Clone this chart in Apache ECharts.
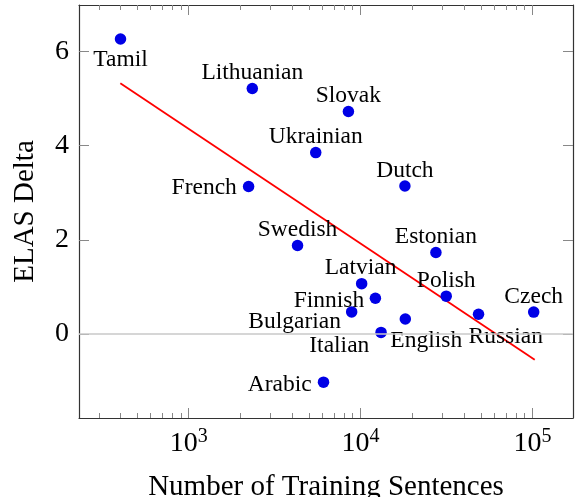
<!DOCTYPE html>
<html>
<head>
<meta charset="utf-8">
<script src="https://cdn.jsdelivr.net/npm/echarts@6/dist/echarts.min.js"></script>
<style>
html,body{margin:0;padding:0;background:#fff;}
#chart{width:575px;height:497px;}
</style>
</head>
<body>
<div id="chart"></div>
<script>
// ---- data ----
var languages = ['Tamil','Lithuanian','Slovak','Ukrainian','French','Dutch','Swedish','Latvian','Finnish','Bulgarian','Italian','English','Arabic','Estonian','Polish','Russian','Czech'];
var trainingSentences = [401, 2344, 8492, 5483, 2230, 18100, 4296, 10140, 12190, 8870, 13150, 18200, 6083, 27420, 31480, 48530, 101600];
var elasDelta = [6.26, 5.21, 4.72, 3.85, 3.13, 3.14, 1.88, 1.07, 0.76, 0.47, 0.035, 0.32, -1.02, 1.73, 0.805, 0.42, 0.466];
var fitX = [400, 103000];
var fitY = [5.32, -0.545];
var xMajorTicks = [1000, 10000, 100000];
var xMinorTicks = [300,400,500,600,700,800,900,2000,3000,4000,5000,6000,7000,8000,9000,20000,30000,40000,50000,60000,70000,80000,90000];
var yTicks = [0, 2, 4, 6];

// ---- layout / style ----
var FONT = 'Liberation Serif';
var xMin = 230, xMax = 172000, yMin = -1.78, yMax = 6.98;
var labelPlacement = {
  Tamil:      {position:'inside', offset:[0, 20.5]},
  Lithuanian: {position:'inside', offset:[0, -15.5]},
  Slovak:     {position:'inside', offset:[0, -15.5]},
  Ukrainian:  {position:'inside', offset:[0, -15.5]},
  French:     {position:'left', distance:6, offset:[0, 1.5]},
  Dutch:      {position:'inside', offset:[0, -15.5]},
  Swedish:    {position:'inside', offset:[0, -15.5]},
  Latvian:    {position:'inside', offset:[-1, -15.5]},
  Finnish:    {position:'left', distance:5.5, offset:[0, 3]},
  Bulgarian:  {position:'left', distance:5, offset:[0, 10]},
  Italian:    {position:'left', distance:6, offset:[0, 13]},
  English:    {position:'inside', align:'left', offset:[-15, 21.5]},
  Arabic:     {position:'left', distance:6, offset:[0, 3]},
  Estonian:   {position:'inside', offset:[0, -15.5]},
  Polish:     {position:'inside', offset:[0, -15.5]},
  Russian:    {position:'inside', align:'left', offset:[-10, 22.5]},
  Czech:      {position:'inside', offset:[0, -15.5]}
};

var points = languages.map(function(n, i){
  var lp = labelPlacement[n];
  var lab = {show:true, position:lp.position, offset:lp.offset, formatter:n};
  if (lp.distance != null) lab.distance = lp.distance;
  if (lp.align) lab.align = lp.align;
  return {name:n, value:[trainingSentences[i], elasDelta[i]], label:lab};
});
var fitData = fitX.map(function(x, i){ return [x, fitY[i]]; });

function xAxisBase(extra){
  var a = {type:'log', logBase:10, min:xMin, max:xMax, gridIndex:0,
    axisLine:{show:true, onZero:false, lineStyle:{color:'#333', width:1.2}},
    splitLine:{show:false}, minorTick:{show:false}, minorSplitLine:{show:false},
    axisLabel:{show:false}, axisTick:{show:false}};
  for (var k in extra) a[k] = extra[k];
  return a;
}

var chart = echarts.init(document.getElementById('chart'), null, {renderer:'canvas'});
chart.setOption({
  animation:false,
  backgroundColor:'#fff',
  textStyle:{fontFamily:FONT, color:'#000'},
  grid:{left:79, right:2, top:5, bottom:79, containLabel:false, outerBoundsMode:'none'},
  xAxis:[
    xAxisBase({position:'bottom',
      name:'Number of Training Sentences', nameLocation:'middle', nameGap:55,
      nameTextStyle:{fontFamily:FONT, fontSize:29, color:'#000'},
      axisTick:{show:true, inside:true, length:10, customValues:xMajorTicks, lineStyle:{color:'#888', width:1}},
      axisLabel:{show:true, margin:9, customValues:xMajorTicks, color:'#000', fontFamily:FONT,
        formatter:function(v){ return '{b|10}{s|' + Math.round(Math.log10(v)) + '}'; },
        rich:{b:{fontFamily:FONT, fontSize:28, color:'#000'}, s:{fontFamily:FONT, fontSize:20, color:'#000', padding:[0,0,14,0]}}}
    }),
    xAxisBase({position:'top',
      axisTick:{show:true, inside:true, length:10, customValues:xMajorTicks, lineStyle:{color:'#888', width:1}}}),
    xAxisBase({position:'bottom', axisLine:{show:false, onZero:false},
      axisTick:{show:true, inside:true, length:5, customValues:xMinorTicks, lineStyle:{color:'#888', width:1}}}),
    xAxisBase({position:'top', axisLine:{show:false, onZero:false},
      axisTick:{show:true, inside:true, length:5, customValues:xMinorTicks, lineStyle:{color:'#888', width:1}}})
  ],
  yAxis:[
    {type:'value', position:'left', min:yMin, max:yMax,
      name:'ELAS Delta', nameLocation:'middle', nameGap:39, nameRotate:90,
      nameTextStyle:{fontFamily:FONT, fontSize:29, color:'#000'},
      axisLine:{show:true, onZero:false, lineStyle:{color:'#333', width:1.2}},
      splitLine:{show:false},
      axisTick:{show:true, inside:true, length:10, customValues:yTicks, lineStyle:{color:'#888', width:1}},
      axisLabel:{show:true, margin:10, customValues:yTicks, fontFamily:FONT, fontSize:28, color:'#000'}
    },
    {type:'value', position:'right', min:yMin, max:yMax,
      axisLine:{show:true, onZero:false, lineStyle:{color:'#333', width:1.2}},
      splitLine:{show:false},
      axisTick:{show:true, inside:true, length:10, customValues:yTicks, lineStyle:{color:'#888', width:1}},
      axisLabel:{show:false}
    }
  ],
  series:[
    {type:'line', xAxisIndex:0, yAxisIndex:0, data:fitData, symbol:'none', z:3,
      lineStyle:{color:'#ff0000', width:1.8},
      markLine:{silent:true, symbol:['none','none'], label:{show:false},
        lineStyle:{color:'#c8c8c8', width:1.5, type:'solid'}, data:[{yAxis:0}]}
    },
    {type:'scatter', xAxisIndex:0, yAxisIndex:0, data:points, symbol:'circle', symbolSize:11.5, z:4,
      itemStyle:{color:'#0000e6', opacity:1},
      label:{fontFamily:FONT, fontSize:23.5, color:'#000'}
    }
  ]
});
</script>
</body>
</html>
